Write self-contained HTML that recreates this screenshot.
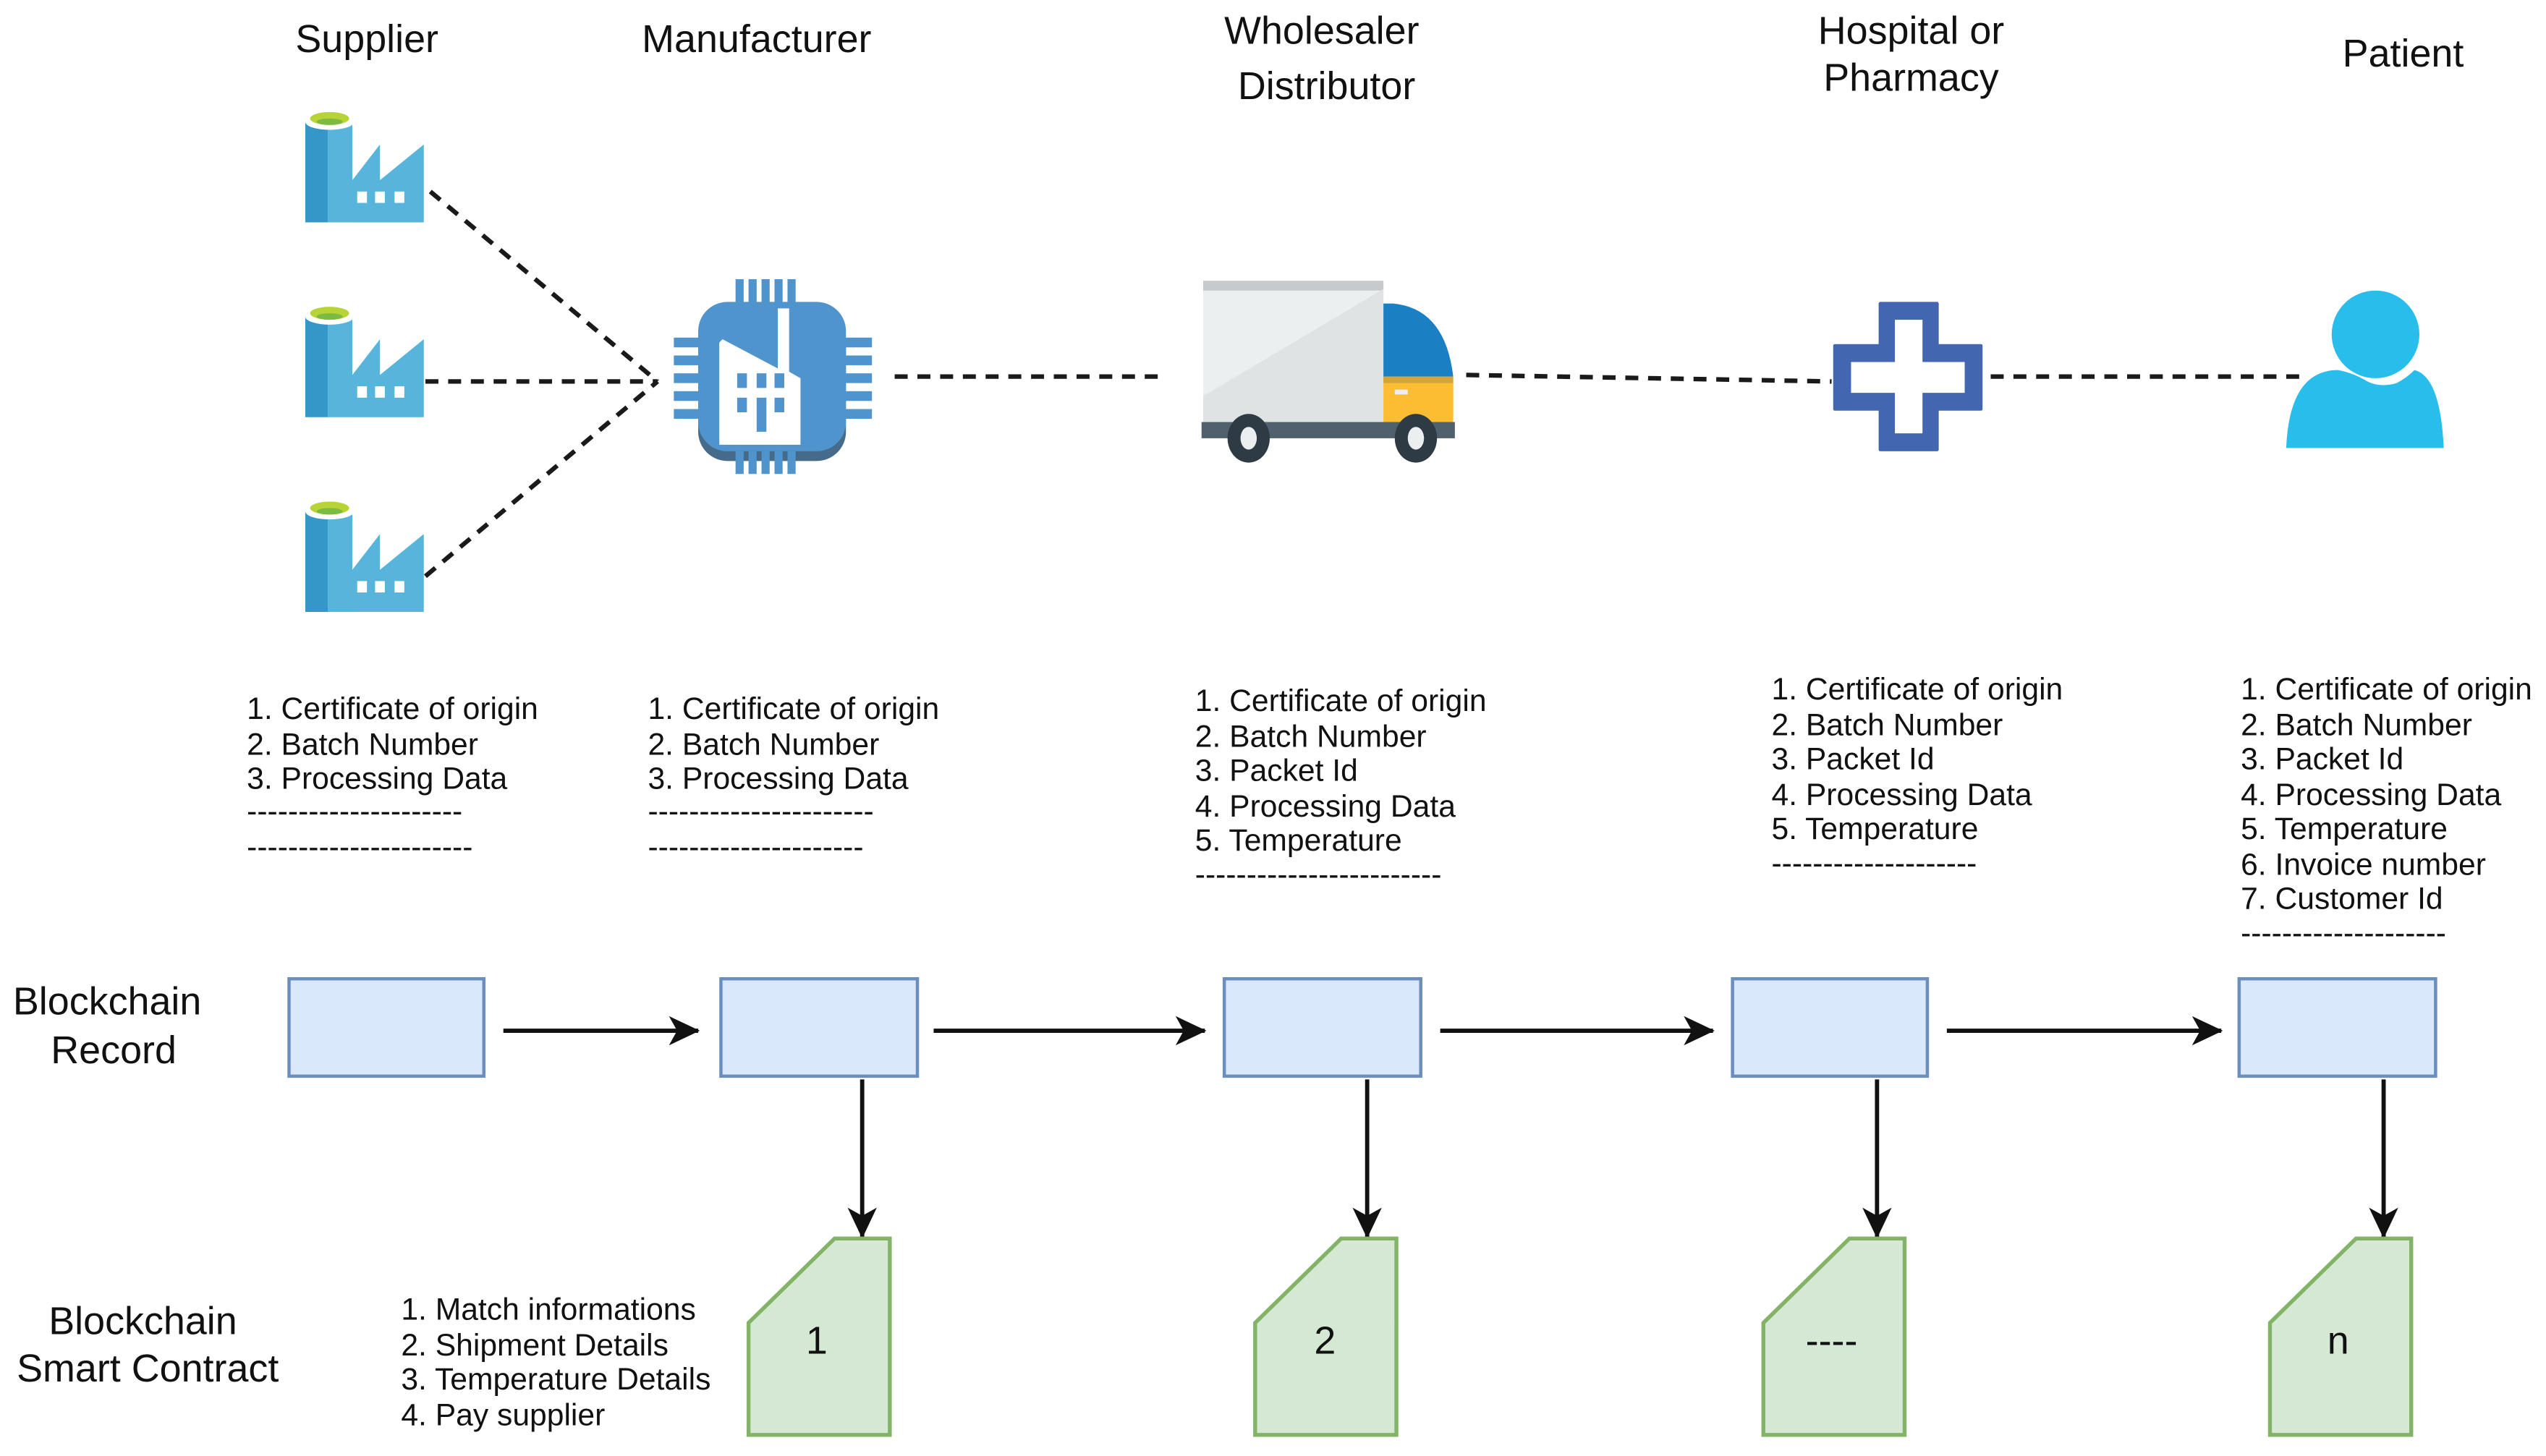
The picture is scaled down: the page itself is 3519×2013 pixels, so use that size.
<!DOCTYPE html>
<html><head><meta charset="utf-8"><style>
html,body{margin:0;padding:0;background:#fff;}
svg{display:block;}
text{font-family:"Liberation Sans",sans-serif;fill:#111;}
.t{font-size:24px;text-anchor:middle;}
.l{font-size:19px;}
</style></head><body>
<svg width="3519" height="2013" viewBox="0 0 1568 897" preserveAspectRatio="none" xmlns="http://www.w3.org/2000/svg">
<defs>
<g id="fac">
<rect x="0" y="8" width="14" height="62" fill="#3597c8"/>
<rect x="14" y="8" width="15" height="62" fill="#57b4da"/>
<polygon points="29,70 29,44 46,22 46,44 73,22 73,70" fill="#57b4da"/>
<ellipse cx="15" cy="8" rx="15" ry="5" fill="#fff"/>
<ellipse cx="15" cy="6" rx="12" ry="4" fill="#b8d336"/>
<ellipse cx="15" cy="8" rx="8" ry="2" fill="#7cbb42"/>
<rect x="32" y="51" width="6" height="7" fill="#fff"/>
<rect x="43" y="51" width="6" height="7" fill="#fff"/>
<rect x="55" y="51" width="6" height="7" fill="#fff"/>
</g>
<marker id="ah" markerWidth="20" markerHeight="20" refX="18" refY="10" orient="auto" markerUnits="userSpaceOnUse"><path d="M0,1 L19,10 L0,19 L5,10 Z" fill="#111"/></marker>
</defs>

<!-- titles -->
<text class="t" x="226" y="32">Supplier</text>
<text class="t" x="466" y="32">Manufacturer</text>
<text class="t" x="814" y="27">Wholesaler</text>
<text class="t" x="817" y="61">Distributor</text>
<text class="t" x="1177" y="27">Hospital or</text>
<text class="t" x="1177" y="56">Pharmacy</text>
<text class="t" x="1480" y="41">Patient</text>

<!-- dashed lines -->
<g stroke="#1a1a1a" stroke-width="2.8" stroke-dasharray="8,6" fill="none">
<line x1="265" y1="118" x2="405" y2="235"/>
<line x1="262" y1="235" x2="405" y2="235"/>
<line x1="262" y1="355" x2="405" y2="235"/>
<line x1="551" y1="232" x2="718" y2="232"/>
<line x1="903" y1="231" x2="1128" y2="235"/>
<line x1="1226" y1="232" x2="1422" y2="232"/>
</g>

<use href="#fac" x="188" y="67"/>
<use href="#fac" x="188" y="187"/>
<use href="#fac" x="188" y="307"/>

<!-- chip -->
<g fill="#4f94cc">
<rect x="430" y="191" width="91" height="93" rx="18" fill="#466a8a"/>
<rect x="430" y="186" width="91" height="92" rx="18"/>
<rect x="453" y="172" width="5" height="16"/><rect x="461" y="172" width="5" height="16"/><rect x="469" y="172" width="5" height="16"/><rect x="477" y="172" width="5" height="16"/><rect x="485" y="172" width="5" height="16"/>
<rect x="453" y="278" width="5" height="14"/><rect x="461" y="278" width="5" height="14"/><rect x="469" y="278" width="5" height="14"/><rect x="477" y="278" width="5" height="14"/><rect x="485" y="278" width="5" height="14"/>
<rect x="415" y="208" width="16" height="6"/><rect x="415" y="219" width="16" height="6"/><rect x="415" y="230" width="16" height="6"/><rect x="415" y="241" width="16" height="6"/><rect x="415" y="252" width="16" height="6"/>
<rect x="520" y="208" width="17" height="6"/><rect x="520" y="219" width="17" height="6"/><rect x="520" y="230" width="17" height="6"/><rect x="520" y="241" width="17" height="6"/><rect x="520" y="252" width="17" height="6"/>
</g>
<path d="M443,211 L445,209 L479,227 L479,190 L486,190 L486,229 L493,233 L493,274 L443,274 Z" fill="#fff"/>
<g fill="#4f94cc">
<rect x="454" y="230" width="6" height="9"/><rect x="466" y="230" width="6" height="9"/><rect x="477" y="230" width="6" height="9"/>
<rect x="454" y="245" width="6" height="9"/><rect x="466" y="245" width="6" height="21"/><rect x="477" y="245" width="6" height="9"/>
</g>

<!-- truck -->
<rect x="741" y="173" width="111" height="94" fill="#eceff0"/>
<rect x="741" y="173" width="111" height="6" fill="#c6cacc"/>
<polygon points="741,244 852,178 852,267 741,267" fill="#dfe3e4"/>
<path d="M852,187 L858,187 Q890,190 895,232 L852,232 Z" fill="#1a7fc3"/>
<rect x="852" y="232" width="43" height="35" fill="#fdbd33"/>
<rect x="852" y="232" width="43" height="4" fill="#d3a43a"/>
<rect x="859" y="240" width="8" height="3" fill="#eee"/>
<rect x="740" y="260" width="156" height="10" fill="#50606c"/>
<ellipse cx="769" cy="270" rx="13" ry="15" fill="#2f3b44"/><ellipse cx="769" cy="270" rx="5" ry="7" fill="#eceff0"/>
<ellipse cx="872" cy="270" rx="13" ry="15" fill="#2f3b44"/><ellipse cx="872" cy="270" rx="5" ry="7" fill="#eceff0"/>

<!-- cross -->
<path d="M1158,187 H1193 V213 H1220 V252 H1193 V277 H1158 V252 H1130 V213 H1158 Z" fill="#4266b0" stroke="#4266b0" stroke-width="2" stroke-linejoin="round"/>
<path d="M1167,197 H1184 V223 H1210 V242 H1184 V267 H1167 V242 H1140 V223 H1167 Z" fill="#fff"/>

<!-- person -->
<circle cx="1463" cy="206" r="27" fill="#29bdec"/>
<path d="M1408,276 Q1410,228 1440,228 Q1450,230 1458,235 Q1466,239 1476,236 Q1482,233 1487,228 Q1503,232 1505,276 Z" fill="#29bdec"/>

<!-- lists -->
<g>
<text x="152" y="443" class="l">1. Certificate of origin</text>
<text x="152" y="465" class="l">2. Batch Number</text>
<text x="152" y="486" class="l">3. Processing Data</text>
<text x="152" y="506" class="l">---------------------</text>
<text x="152" y="528" class="l">----------------------</text>

<text x="399" y="443" class="l">1. Certificate of origin</text>
<text x="399" y="465" class="l">2. Batch Number</text>
<text x="399" y="486" class="l">3. Processing Data</text>
<text x="399" y="506" class="l">----------------------</text>
<text x="399" y="528" class="l">---------------------</text>

<text x="736" y="438" class="l">1. Certificate of origin</text>
<text x="736" y="460" class="l">2. Batch Number</text>
<text x="736" y="481" class="l">3. Packet Id</text>
<text x="736" y="503" class="l">4. Processing Data</text>
<text x="736" y="524" class="l">5. Temperature</text>
<text x="736" y="545" class="l">------------------------</text>

<text x="1091" y="431" class="l">1. Certificate of origin</text>
<text x="1091" y="453" class="l">2. Batch Number</text>
<text x="1091" y="474" class="l">3. Packet Id</text>
<text x="1091" y="496" class="l">4. Processing Data</text>
<text x="1091" y="517" class="l">5. Temperature</text>
<text x="1091" y="538" class="l">--------------------</text>

<text x="1380" y="431" class="l">1. Certificate of origin</text>
<text x="1380" y="453" class="l">2. Batch Number</text>
<text x="1380" y="474" class="l">3. Packet Id</text>
<text x="1380" y="496" class="l">4. Processing Data</text>
<text x="1380" y="517" class="l">5. Temperature</text>
<text x="1380" y="539" class="l">6. Invoice number</text>
<text x="1380" y="560" class="l">7. Customer Id</text>
<text x="1380" y="581" class="l">--------------------</text>

<text x="247" y="813" class="l">1. Match informations</text>
<text x="247" y="835" class="l">2. Shipment Details</text>
<text x="247" y="856" class="l">3. Temperature Details</text>
<text x="247" y="878" class="l">4. Pay supplier</text>
</g>

<text class="t" x="66" y="625">Blockchain</text>
<text class="t" x="70" y="655">Record</text>
<text class="t" x="88" y="822">Blockchain</text>
<text class="t" x="91" y="851">Smart Contract</text>

<!-- blocks -->
<g fill="#dae8fc" stroke="#6c8ebf" stroke-width="2">
<rect x="178" y="603" width="120" height="60"/>
<rect x="444" y="603" width="121" height="60"/>
<rect x="754" y="603" width="121" height="60"/>
<rect x="1067" y="603" width="120" height="60"/>
<rect x="1379" y="603" width="121" height="60"/>
</g>

<g stroke="#111" stroke-width="2.6" marker-end="url(#ah)">
<line x1="310" y1="635" x2="430" y2="635"/>
<line x1="575" y1="635" x2="742" y2="635"/>
<line x1="887" y1="635" x2="1055" y2="635"/>
<line x1="1199" y1="635" x2="1368" y2="635"/>
<line x1="531" y1="665" x2="531" y2="762"/>
<line x1="842" y1="665" x2="842" y2="762"/>
<line x1="1156" y1="665" x2="1156" y2="762"/>
<line x1="1468" y1="665" x2="1468" y2="762"/>
</g>

<g fill="#d5e8d4" stroke="#82b366" stroke-width="2.4">
<polygon points="461,815 514,763 548,763 548,884 461,884"/>
<polygon points="773,815 826,763 860,763 860,884 773,884"/>
<polygon points="1086,815 1139,763 1173,763 1173,884 1086,884"/>
<polygon points="1398,815 1451,763 1485,763 1485,884 1398,884"/>
</g>
<text class="t" x="503" y="834">1</text>
<text class="t" x="816" y="834">2</text>
<text class="t" x="1128" y="834">----</text>
<text class="t" x="1440" y="834">n</text>
</svg>
</body></html>
